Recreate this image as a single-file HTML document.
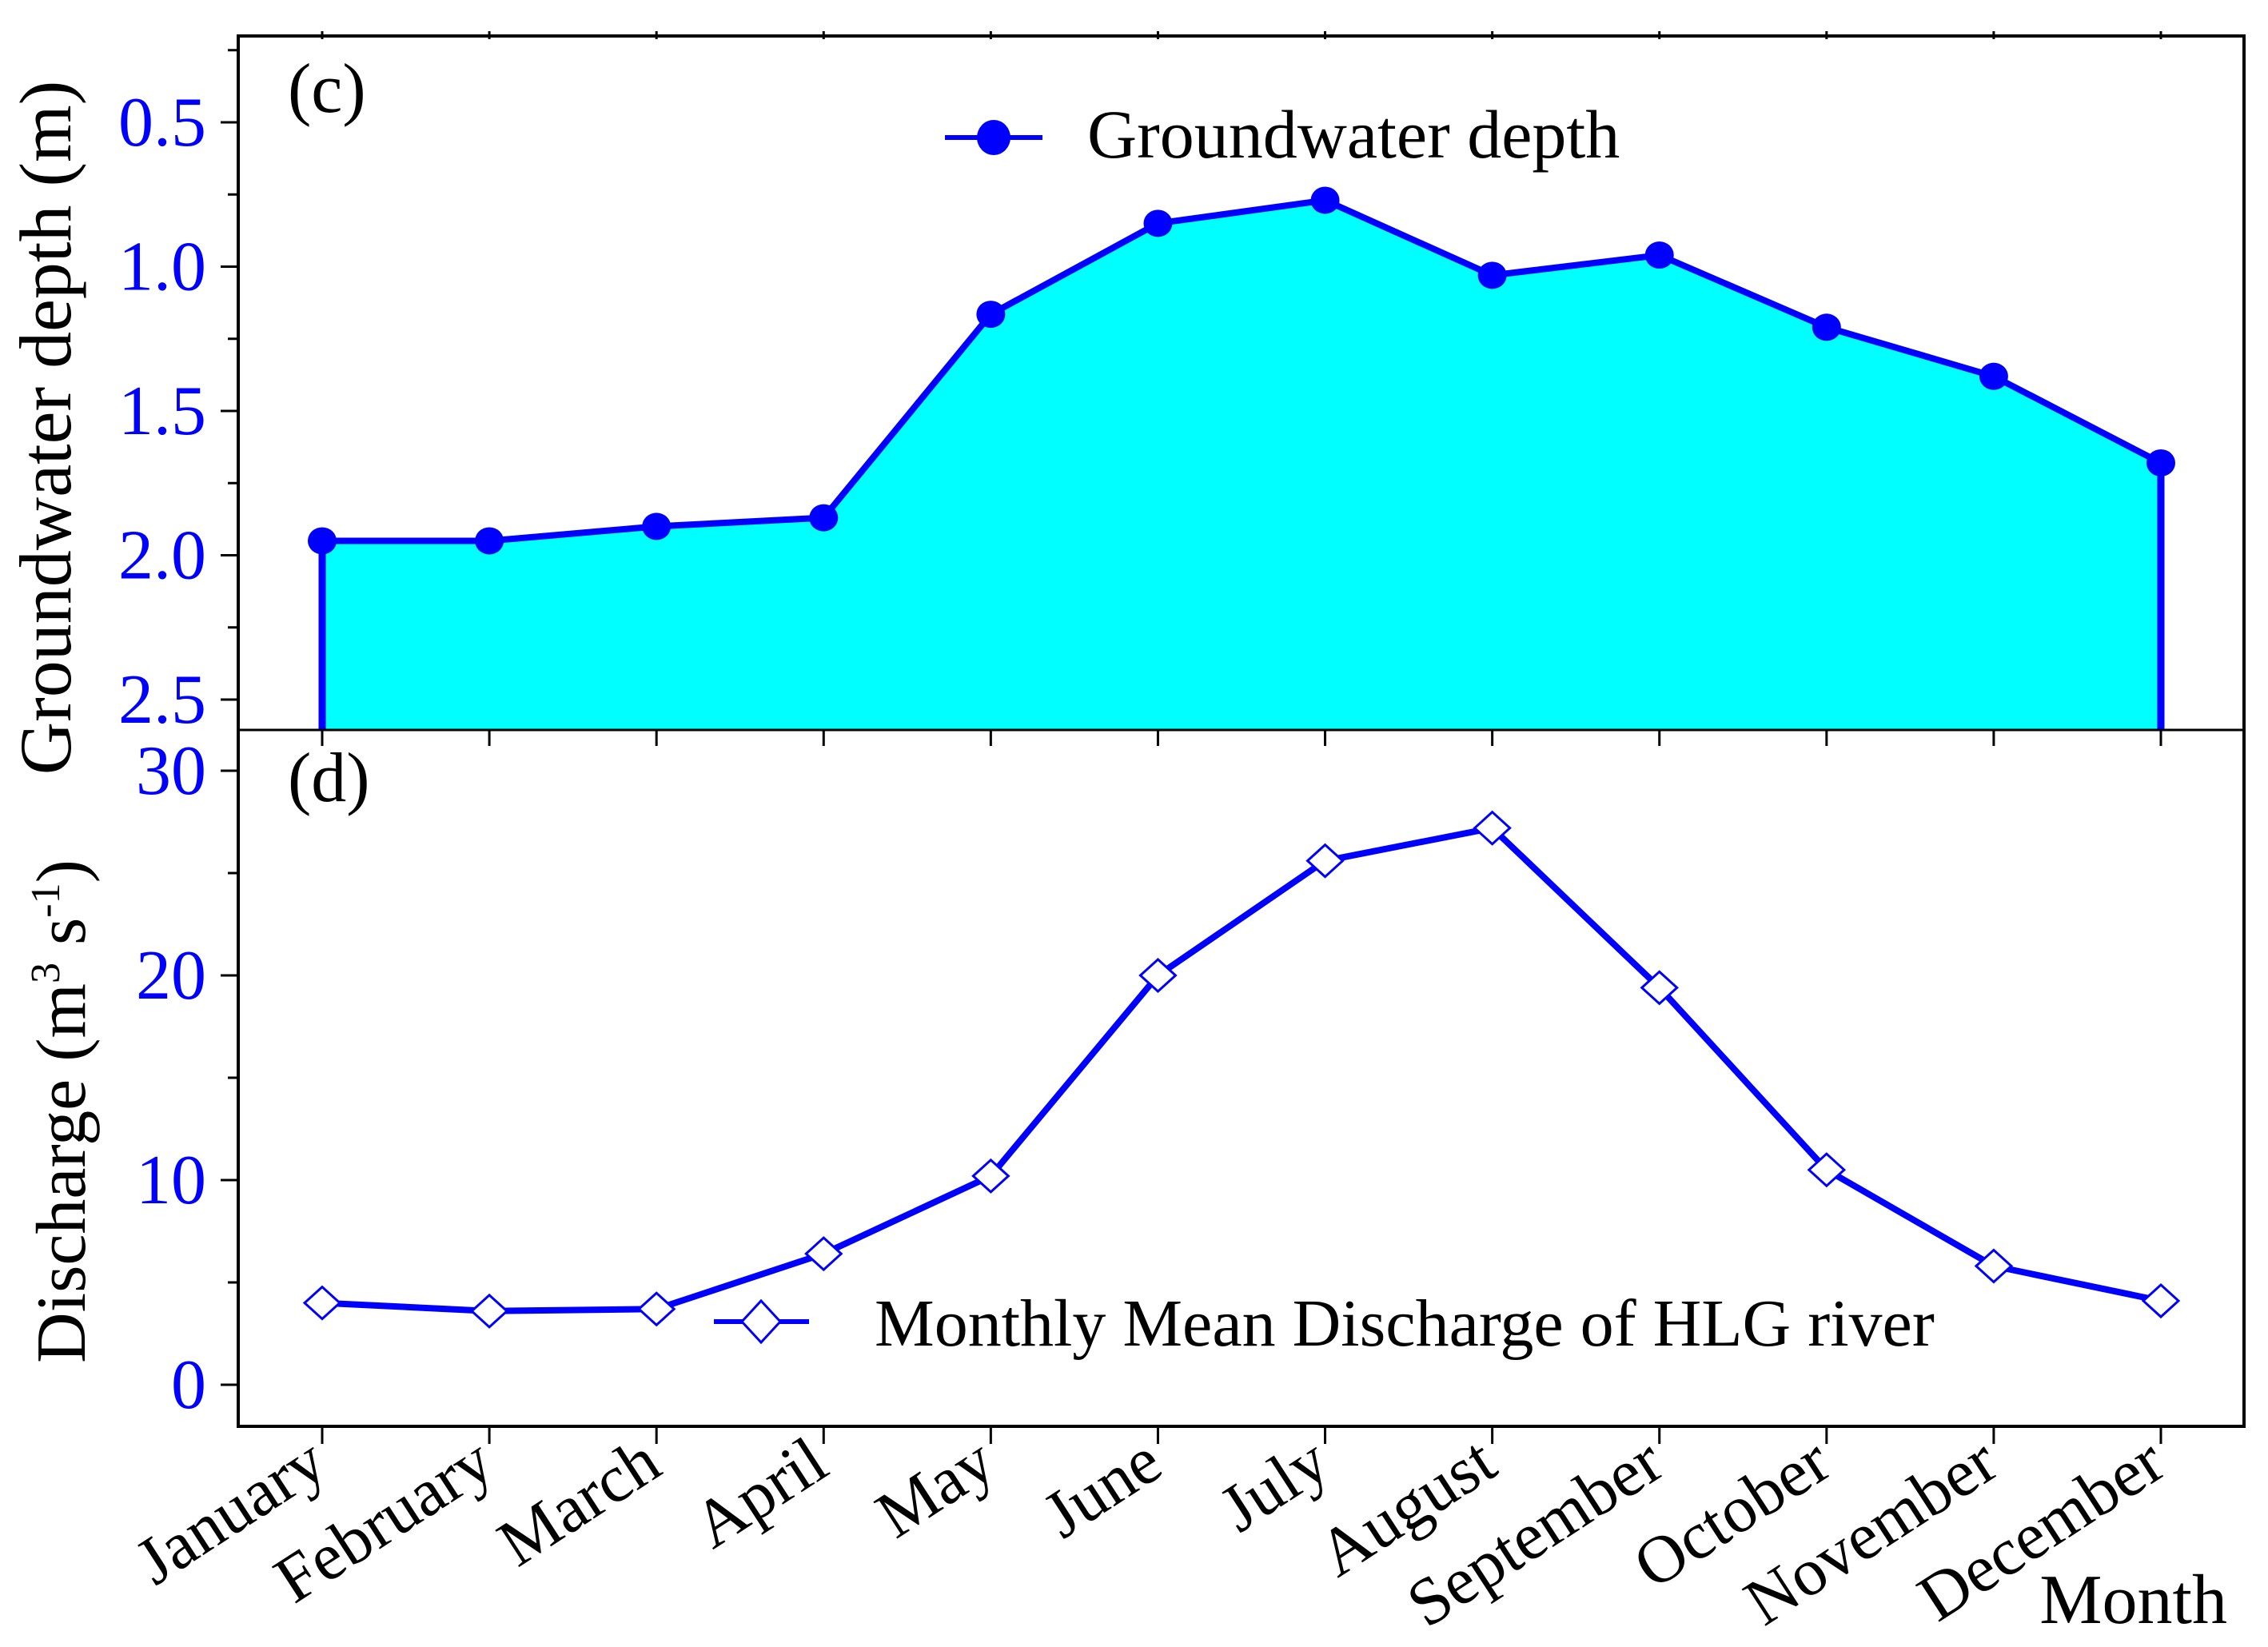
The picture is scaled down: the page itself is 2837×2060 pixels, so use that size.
<!DOCTYPE html>
<html><head><meta charset="utf-8"><style>
html,body{margin:0;padding:0;background:#fff;}
svg{display:block;font-family:"Liberation Serif",serif;}
</style></head><body>
<svg id="chart" width="2837" height="2060" viewBox="0 0 2837 2060" xmlns="http://www.w3.org/2000/svg">
</svg>
<script>
const months = ["January","February","March","April","May","June","July","August","September","October","November","December"];
const depthValues = [1.95,1.95,1.90,1.87,1.165,0.85,0.77,1.03,0.96,1.21,1.38,1.68];
const dischargeValues = [4.0,3.6,3.7,6.4,10.2,20.0,25.6,27.2,19.4,10.5,5.8,4.1];
const depthTicks = ["0.5","1.0","1.5","2.0","2.5"];
const dischargeTicks = ["0","10","20","30"];

const NS="http://www.w3.org/2000/svg";
const svg=document.getElementById('chart');
function el(tag,attrs,parent){const e=document.createElementNS(NS,tag);for(const k in attrs)e.setAttribute(k,attrs[k]);(parent||svg).appendChild(e);return e;}
const L=298,R=2807,T=45,MID=913,B=1784;
const x0=403,dx=(2703-403)/11;
const xs=i=>x0+i*dx;
const yTop=v=>153+(v-0.5)*361;
const yBot=v=>1732-v*25.6;
const blue="#0000ff";

const g1=el('g',{});


let d="M"+xs(0)+","+MID;
depthValues.forEach((v,i)=>{d+=" L"+xs(i)+","+yTop(v);});
d+=" L"+xs(11)+","+MID+" Z";
const area=el('path',{d:d,fill:"#00ffff",stroke:"none"},g1);


let ld="";depthValues.forEach((v,i)=>{ld+=(i?" L":"M")+xs(i)+","+yTop(v);});
const dl=el('path',{d:ld,fill:"none",stroke:blue,"stroke-width":8},g1);


el('line',{x1:xs(0),y1:yTop(depthValues[0]),x2:xs(0),y2:MID,stroke:blue,"stroke-width":9},g1);
el('line',{x1:xs(11),y1:yTop(depthValues[11]),x2:xs(11),y2:MID,stroke:blue,"stroke-width":9},g1);
depthValues.forEach((v,i)=>{
  const c=el('ellipse',{cx:xs(i),cy:yTop(v),rx:18,ry:17,fill:blue},g1);
  
  
});

const g2=el('g',{});


let bd="";dischargeValues.forEach((v,i)=>{bd+=(i?" L":"M")+xs(i)+","+yBot(v);});
const bl=el('path',{d:bd,fill:"none",stroke:blue,"stroke-width":8},g2);


dischargeValues.forEach((v,i)=>{
  const x=xs(i),y=yBot(v);
  const p=el('polygon',{points:`${x-22},${y} ${x},${y-20} ${x+22},${y} ${x},${y+20}`,fill:"#fff",stroke:blue,"stroke-width":3},g2);
  
  
});

el('rect',{x:L,y:T,width:R-L,height:B-T,fill:"none",stroke:"#000","stroke-width":4});
el('line',{x1:L,y1:MID,x2:R,y2:MID,stroke:"#000","stroke-width":3});

months.forEach((m,i)=>{
  const x=xs(i);
  el('line',{x1:x,y1:T-6,x2:x,y2:T+4,stroke:"#000","stroke-width":3});
  el('line',{x1:x,y1:MID,x2:x,y2:MID+20,stroke:"#000","stroke-width":3});
  el('line',{x1:x,y1:B,x2:x,y2:B+22,stroke:"#000","stroke-width":3});
  const t=el('text',{x:x+10,y:B+58,"font-size":84,"text-anchor":"end",transform:`rotate(-33 ${x+10} ${B+58})`,fill:"#000"});
  t.textContent=m;
  
  
});

depthTicks.forEach((s,i)=>{
  const v=parseFloat(s),y=yTop(v);
  el('line',{x1:L-22,y1:y,x2:L,y2:y,stroke:"#000","stroke-width":3});
  const t=el('text',{x:L-40,y:y+29,"font-size":88,"text-anchor":"end",fill:blue});
  t.textContent=s;
  
  
});
[0.25,0.75,1.25,1.75,2.25].forEach(v=>el('line',{x1:L-13,y1:yTop(v),x2:L,y2:yTop(v),stroke:"#000","stroke-width":3}));

dischargeTicks.forEach(s=>{
  const y=yBot(parseFloat(s));
  el('line',{x1:L-22,y1:y,x2:L,y2:y,stroke:"#000","stroke-width":3});
  const t=el('text',{x:L-40,y:y+29,"font-size":88,"text-anchor":"end",fill:blue});
  t.textContent=s;
  
  
});
[5,15,25].forEach(v=>el('line',{x1:L-13,y1:yBot(v),x2:L,y2:yBot(v),stroke:"#000","stroke-width":3}));
</script>
<svg width="2837" height="2060" style="position:absolute;left:0;top:0" font-family="Liberation Serif, serif">
  <text x="360" y="140" font-size="88">(c)</text>
  <text x="360" y="1002" font-size="88">(d)</text>
  <text transform="translate(88 535) rotate(-90)" text-anchor="middle" font-size="92">Groundwater depth (m)</text>
  <text transform="translate(106 1390) rotate(-90)" text-anchor="middle" font-size="88">Discharge (m<tspan font-size="52" dy="-32">3</tspan><tspan dy="32"> s</tspan><tspan font-size="52" dy="-32">-1</tspan><tspan dy="32">)</tspan></text>
  <g>
    <line x1="1182" y1="172" x2="1304" y2="172" stroke="#0000ff" stroke-width="6"/>
    <ellipse cx="1243" cy="172" rx="21" ry="22" fill="#0000ff"/>
    <text x="1360" y="197" font-size="86">Groundwater depth</text>
  </g>
  <g>
    <line x1="893" y1="1653" x2="1012" y2="1653" stroke="#0000ff" stroke-width="6"/>
    <polygon points="928,1653 952,1627 976,1653 952,1679" fill="#fff" stroke="#0000ff" stroke-width="3"/>
    <text x="1094" y="1683" font-size="84">Monthly Mean Discharge of HLG river</text>
  </g>
  <text x="2786" y="2030" text-anchor="end" font-size="88">Month</text>
</svg>
</body></html>
